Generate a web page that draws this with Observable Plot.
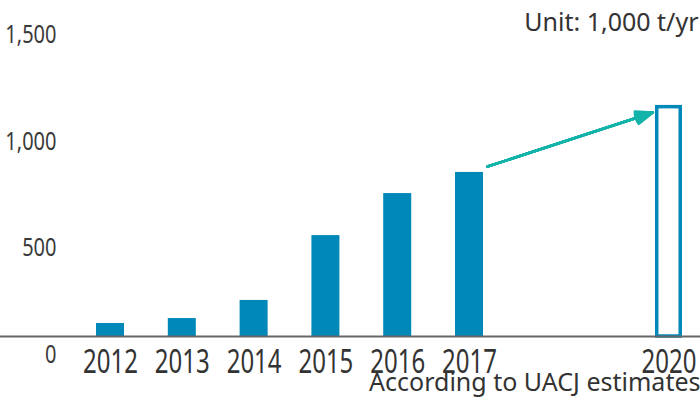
<!DOCTYPE html>
<html><head><meta charset="utf-8">
<script src="https://cdn.jsdelivr.net/npm/d3@7"></script>
<script src="https://cdn.jsdelivr.net/npm/@observablehq/plot@0.6"></script>
<style>body{margin:0;background:#fff}</style>
</head><body><div id="chart"></div>
<script>
const years = [2012, 2013, 2014, 2015, 2016, 2017];
const values = [61, 84, 169, 473, 670, 769];
const forecastYears = [2020];
const forecastValues = [1075];
const yTicks = [0, 500, 1000, 1500];
const unitLabel = "Unit: 1,000 t/yr";
const sourceLabel = "According to UACJ estimates";

const actual = years.map((year, i) => ({year, value: values[i]}));
const forecast = forecastYears.map((year, i) => ({year, value: forecastValues[i]}));
const lastYear = years[years.length - 1];
const arrowData = [{x1: lastYear, y1: values[values.length - 1], x2: forecastYears[0], y2: forecastValues[0]}];
const allYears = years.concat(forecastYears);

const BLUE = "#0088b8", TEAL = "#14b3aa", TEXT = "#333333";
const FONT = "'Noto Sans', 'Open Sans', sans-serif";
const gap = 0.926; // compressed spacing between 2017 and 2020

const arrowStyle = {x1: "x1", y1: "y1", x2: "x2", y2: "y2", stroke: TEAL, strokeWidth: 2.5, headLength: 10.8, insetStart: 19, insetEnd: 17};
const fmt = d3.format(",");

const chart = Plot.plot({
  width: 700, height: 412,
  marginTop: 16, marginBottom: 76, marginLeft: 0, marginRight: 0,
  style: {background: "white", overflow: "visible"},
  x: {type: "linear", domain: [2010.468, 2020.217], axis: null,
      transform: d => d <= lastYear ? d : lastYear + (d - lastYear) * gap},
  y: {domain: [0, 1500], axis: null},
  marks: [
    Plot.rect(actual, {x1: "year", x2: "year", y1: 0, y2: "value", fill: BLUE, insetLeft: -14, insetRight: -14}),
    Plot.rect(forecast, {x1: "year", x2: "year", y1: 0, y2: "value", fill: "white", stroke: BLUE, strokeWidth: 3.5, insetLeft: -11.75, insetRight: -11.75}),
    ...[42, 34, 26, 18, 10, 3].map(a => Plot.arrow(arrowData, {...arrowStyle, headAngle: a})),
    Plot.ruleY([0], {stroke: "#666666", strokeWidth: 2}),
    Plot.text(yTicks, {y: d => d, text: d => fmt(d), frameAnchor: "left", textAnchor: "end", dx: 56, dy: 18, fontSize: 26, fontFamily: FONT, fill: "#3a3a3a"}),
    Plot.text(allYears, {x: d => d, y: 0, text: d => String(d), dy: 26, fontSize: 32, fontFamily: FONT, fill: TEXT}),
    Plot.text([unitLabel], {frameAnchor: "top-right", text: d => d, textAnchor: "end", dx: -2, dy: -3, fontSize: 25, fontFamily: FONT, fill: TEXT}),
    Plot.text([sourceLabel], {frameAnchor: "bottom-right", text: d => d, textAnchor: "end", dx: 0, dy: 54, fontSize: 25, fontFamily: FONT, fill: TEXT})
  ]
});

// condensed face emulation (no condensed font installed)
const yLabelSet = new Set(yTicks.map(fmt));
const xLabelSet = new Set(allYears.map(String));
chart.querySelectorAll("text").forEach(el => {
  const s = el.textContent.trim();
  let k = null;
  if (yLabelSet.has(s)) k = 0.77;
  else if (xLabelSet.has(s)) k = 0.75;
  if (k == null) return;
  const t = el.getAttribute("transform") || "";
  const x = +el.getAttribute("x") || 0;
  el.setAttribute("transform", `${t} translate(${x},0) scale(${k},1) translate(${-x},0)`);
});

document.getElementById("chart").appendChild(chart);
</script>
</body></html>
